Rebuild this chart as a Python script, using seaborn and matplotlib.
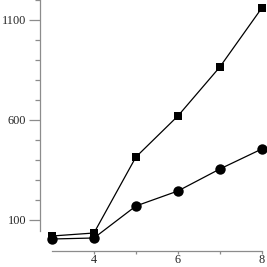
import seaborn as sns
import pandas as pd
import numpy as np
import matplotlib.pyplot as plt
from matplotlib.ticker import FixedLocator

# data
x_vals = [3, 4, 5, 6, 7, 8]
squares = [20, 35, 415, 620, 865, 1160]
circles = [5, 10, 170, 245, 355, 455]

x_major = [4, 6, 8]
x_minor = [5, 7]
y_major = [100, 600, 1100]
y_minor = [200, 300, 400, 500, 700, 800, 900, 1000, 1200]

sns.set_style("ticks")
plt.rcParams['font.family'] = ['Liberation Serif', 'DejaVu Serif']

fig = plt.figure(figsize=(2.67, 2.67), dpi=100)
ax = fig.add_axes([40 / 267, 16 / 267, 226 / 267, 251 / 267])

df = pd.DataFrame({"x": x_vals, "sq": squares, "ci": circles})
sns.lineplot(data=df, x="x", y="sq", marker="s", markersize=5.5, color="black",
             linewidth=0.9, markeredgewidth=0, ax=ax, clip_on=False)
sns.lineplot(data=df, x="x", y="ci", marker="o", markersize=7.5, color="black",
             linewidth=0.9, markeredgewidth=0, ax=ax, clip_on=False)

ax.set_xlim(2.714, 8.1)
ax.set_ylim(-55, 1200)
ax.set_xlabel("")
ax.set_ylabel("")

ax.xaxis.set_major_locator(FixedLocator(x_major))
ax.xaxis.set_minor_locator(FixedLocator(x_minor))
ax.yaxis.set_major_locator(FixedLocator(y_major))
ax.yaxis.set_minor_locator(FixedLocator(y_minor))

sns.despine(ax=ax)
ax.spines['left'].set_bounds(45, 1200)
ax.spines['bottom'].set_bounds(3, 8)
for s in ['left', 'bottom']:
    ax.spines[s].set_color('#8c8c8c')
    ax.spines[s].set_linewidth(0.9)

ax.tick_params(axis='y', which='major', length=8, width=0.9, color='#8c8c8c',
               pad=2, labelsize=8.8)
ax.tick_params(axis='y', which='minor', length=3.6, width=0.9, color='#8c8c8c')
ax.tick_params(axis='x', which='major', length=2, width=0.9, color='#8c8c8c',
               pad=0.5, labelsize=8.8)
ax.tick_params(axis='x', which='minor', length=2, width=0.9, color='#8c8c8c')

fig.savefig("out.png", dpi=100)
